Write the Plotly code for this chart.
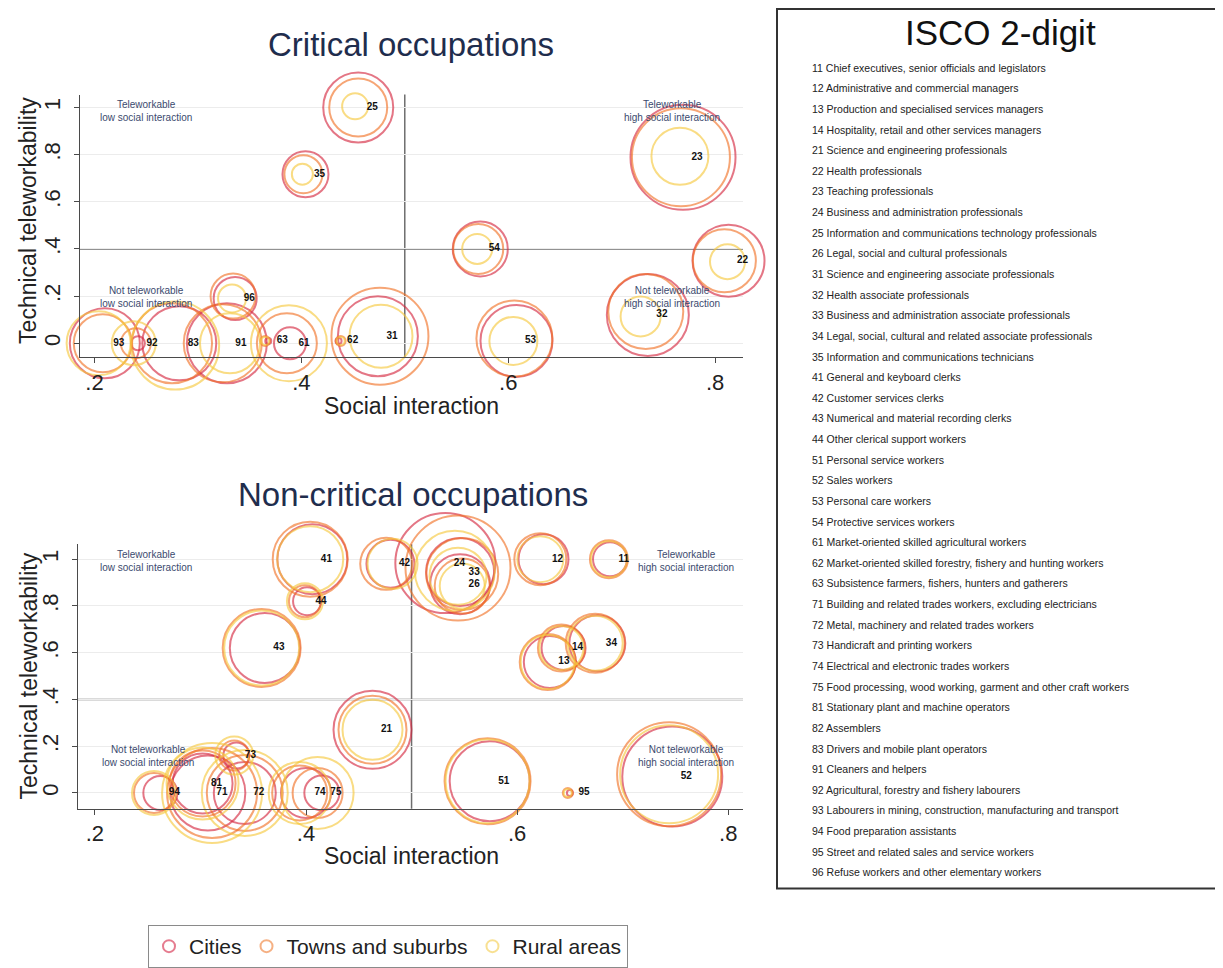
import plotly.graph_objects as go

# ---------------- DATA ----------------
# Critical occupations (top panel)
crit_isco = ["25", "35", "54", "23", "22", "32", "53", "93", "92", "83", "91", "96", "63", "61", "62", "31"]
crit_city_x = [0.455, 0.404, 0.573, 0.769, 0.813, 0.735, 0.608, 0.210, 0.242, 0.282, 0.328, 0.336, 0.368, 0.389, 0.436, 0.474]
crit_city_y = [1.000, 0.717, 0.400, 0.789, 0.350, 0.120, 0.010, 0.000, 0.000, 0.000, 0.000, 0.190, 0.010, 0.000, 0.010, 0.030]
crit_city_s = [70, 46, 55, 105, 72, 82, 72, 70, 14, 74, 80, 43, 6, 32, 6, 80]
crit_town_x = [0.455, 0.402, 0.571, 0.767, 0.809, 0.733, 0.606, 0.208, 0.240, 0.275, 0.324, 0.334, 0.365, 0.386, 0.438, 0.476]
crit_town_y = [1.000, 0.717, 0.400, 0.789, 0.350, 0.135, 0.020, 0.000, 0.000, 0.000, 0.000, 0.200, 0.010, 0.000, 0.010, 0.030]
crit_town_s = [58, 38, 50, 98, 63, 75, 76, 58, 30, 80, 78, 45, 10, 60, 10, 97]
crit_rural_x = [0.452, 0.401, 0.570, 0.766, 0.812, 0.728, 0.605, 0.204, 0.238, 0.278, 0.331, 0.333, 0.365, 0.388, 0.438, 0.477]
crit_rural_y = [1.005, 0.717, 0.400, 0.793, 0.346, 0.114, 0.010, 0.000, 0.000, -0.010, 0.000, 0.190, 0.010, 0.000, 0.010, 0.030]
crit_rural_s = [26, 21, 30, 57, 35, 40, 48, 64, 44, 88, 60, 28, 8, 76, 8, 63]

# Non-critical occupations (bottom panel)
nonc_isco = ["41", "44", "43", "42", "24", "33", "26", "12", "11", "14", "13", "34", "21", "51", "95", "52",
             "94", "73", "81", "71", "72", "74", "75"]
nonc_city_x = [0.406, 0.401, 0.361, 0.480, 0.532, 0.546, 0.546, 0.625, 0.688, 0.644, 0.631, 0.676, 0.463, 0.574, 0.650, 0.747,
               0.262, 0.334, 0.302, 0.307, 0.342, 0.400, 0.415]
nonc_city_y = [1.000, 0.820, 0.620, 0.980, 0.983, 0.945, 0.893, 1.000, 1.000, 0.620, 0.560, 0.640, 0.270, 0.050, 0.000, 0.070,
               0.000, 0.160, 0.040, 0.000, 0.000, 0.000, 0.000]
nonc_city_s = [70, 28, 70, 48, 100, 68, 60, 50, 34, 44, 52, 56, 78, 80, 6, 100,
               34, 26, 60, 75, 62, 50, 35]
nonc_town_x = [0.404, 0.399, 0.358, 0.476, 0.544, 0.548, 0.548, 0.622, 0.687, 0.642, 0.629, 0.674, 0.463, 0.572, 0.648, 0.744,
               0.256, 0.332, 0.302, 0.311, 0.342, 0.394, 0.411]
nonc_town_y = [1.000, 0.820, 0.620, 0.980, 0.962, 0.936, 0.885, 1.000, 1.000, 0.620, 0.560, 0.640, 0.270, 0.050, 0.000, 0.080,
               0.000, 0.160, 0.040, 0.000, 0.000, 0.000, 0.000]
nonc_town_s = [75, 32, 78, 52, 105, 72, 55, 52, 38, 47, 56, 59, 68, 86, 10, 104,
               40, 30, 66, 90, 76, 55, 50]
nonc_rural_x = [0.404, 0.399, 0.358, 0.482, 0.541, 0.544, 0.548, 0.622, 0.687, 0.642, 0.629, 0.674, 0.463, 0.572, 0.648, 0.744,
                0.256, 0.332, 0.302, 0.311, 0.342, 0.394, 0.411]
nonc_rural_y = [1.000, 0.820, 0.620, 0.980, 0.950, 0.927, 0.885, 1.000, 1.000, 0.620, 0.560, 0.640, 0.270, 0.050, 0.000, 0.080,
                0.000, 0.160, 0.040, 0.000, 0.000, 0.000, 0.000]
nonc_rural_s = [66, 36, 75, 50, 80, 57, 45, 46, 36, 44, 54, 55, 60, 84, 8, 98,
                44, 38, 72, 100, 86, 62, 72]

x_ticks = [0.2, 0.4, 0.6, 0.8]
x_ticktext = [".2", ".4", ".6", ".8"]
y_ticks = [0, 0.2, 0.4, 0.6, 0.8, 1]
y_ticktext = ["0", ".2", ".4", ".6", ".8", "1"]

area_names = ["Cities", "Towns and suburbs", "Rural areas"]

isco_list = [
    "11 Chief executives, senior officials and legislators",
    "12 Administrative and commercial managers",
    "13 Production and specialised services managers",
    "14 Hospitality, retail and other services managers",
    "21 Science and engineering professionals",
    "22 Health professionals",
    "23 Teaching professionals",
    "24 Business and administration professionals",
    "25 Information and communications technology professionals",
    "26 Legal, social and cultural professionals",
    "31 Science and engineering associate professionals",
    "32 Health associate professionals",
    "33 Business and administration associate professionals",
    "34 Legal, social, cultural and related associate professionals",
    "35 Information and communications technicians",
    "41 General and keyboard clerks",
    "42 Customer services clerks",
    "43 Numerical and material recording clerks",
    "44 Other clerical support workers",
    "51 Personal service workers",
    "52 Sales workers",
    "53 Personal care workers",
    "54 Protective services workers",
    "61 Market-oriented skilled agricultural workers",
    "62 Market-oriented skilled forestry, fishery and hunting workers",
    "63 Subsistence farmers, fishers, hunters and gatherers",
    "71 Building and related trades workers, excluding electricians",
    "72 Metal, machinery and related trades workers",
    "73 Handicraft and printing workers",
    "74 Electrical and electronic trades workers",
    "75 Food processing, wood working, garment and other craft workers",
    "81 Stationary plant and machine operators",
    "82 Assemblers",
    "83 Drivers and mobile plant operators",
    "91 Cleaners and helpers",
    "92 Agricultural, forestry and fishery labourers",
    "93 Labourers in mining, construction, manufacturing and transport",
    "94 Food preparation assistants",
    "95 Street and related sales and service workers",
    "96 Refuse workers and other elementary workers",
]

# ---------------- STYLE ----------------
OFF = 8  # default page margin of the html body
W, H = 1223 - OFF, 968 - OFF
FONT = "Liberation Sans, Arial, Helvetica, sans-serif"
COLORS = ["rgba(212,38,62,0.9)", "rgba(240,112,36,0.9)", "rgba(246,200,60,0.9)"]
LEGEND_COLORS = ["rgba(220,80,105,0.75)", "rgba(242,150,90,0.75)", "rgba(246,214,110,0.75)"]
NAVY = "#1f2d4d"
QUAD = "#3b4a6e"


def px_x(p):
    return (p - OFF) / W


def px_y(p):
    return 1 - (p - OFF) / H


fig = go.Figure()


def add_panel(xa, ya, isco, series):
    for (xs, ys, ss), col in zip(series, COLORS):
        fig.add_trace(go.Scatter(
            x=xs, y=ys, mode="markers", xaxis=xa, yaxis=ya,
            marker=dict(symbol="circle-open", size=ss, sizemode="diameter",
                        color=col, line=dict(width=2, color=col)),
            cliponaxis=False, showlegend=False, hoverinfo="skip"))
    cx, cy = series[0][0], series[0][1]
    fig.add_trace(go.Scatter(
        x=cx, y=cy, mode="markers+text", xaxis=xa, yaxis=ya, text=isco,
        textposition="middle right",
        textfont=dict(size=10, color="#111", family=FONT, weight="bold"),
        marker=dict(size=12, opacity=0), cliponaxis=False,
        showlegend=False, hoverinfo="skip"))


add_panel("x", "y", crit_isco, [
    (crit_city_x, crit_city_y, crit_city_s),
    (crit_town_x, crit_town_y, crit_town_s),
    (crit_rural_x, crit_rural_y, crit_rural_s)])
add_panel("x2", "y2", nonc_isco, [
    (nonc_city_x, nonc_city_y, nonc_city_s),
    (nonc_town_x, nonc_town_y, nonc_town_s),
    (nonc_rural_x, nonc_rural_y, nonc_rural_s)])

# legend entries
for name, col in zip(area_names, LEGEND_COLORS):
    fig.add_trace(go.Scatter(
        x=[None], y=[None], mode="markers", name=name, xaxis="x", yaxis="y",
        marker=dict(symbol="circle-open", size=9, color=col, line=dict(width=1.5, color=col))))

axis_common = dict(showline=True, linecolor="#4a4a4a", linewidth=1.4, ticks="outside",
                   ticklen=5, tickcolor="#4a4a4a", zeroline=False,
                   tickfont=dict(size=22, color="#222", family=FONT))

fig.update_layout(
    width=W, height=H, margin=dict(l=0, r=0, t=0, b=0),
    paper_bgcolor="white", plot_bgcolor="white",
    font=dict(family=FONT, color="#222"),
    xaxis=dict(domain=[px_x(80), px_x(743)], range=[0.186, 0.827], anchor="y",
               tickvals=x_ticks, ticktext=x_ticktext, showgrid=False, **axis_common),
    yaxis=dict(domain=[px_y(359), px_y(95)], range=[-0.059, 1.055], anchor="x",
               tickvals=y_ticks, ticktext=y_ticktext, tickangle=-90, ticklabelstandoff=5,
               showgrid=True, gridcolor="#ececec", gridwidth=1, **axis_common),
    xaxis2=dict(domain=[px_x(78), px_x(743)], range=[0.184, 0.814], anchor="y2",
                tickvals=x_ticks, ticktext=x_ticktext, showgrid=False, **axis_common),
    yaxis2=dict(domain=[px_y(813), px_y(547)], range=[-0.068, 1.064], anchor="x2",
                tickvals=y_ticks, ticktext=y_ticktext, tickangle=-90, ticklabelstandoff=5,
                showgrid=True, gridcolor="#ececec", gridwidth=1, **axis_common),
    showlegend=True,
    legend=dict(orientation="h", x=px_x(148), y=px_y(930), xanchor="left", yanchor="top",
                bordercolor="#8a8a8a", borderwidth=1, bgcolor="white",
                font=dict(size=21, color="#222", family=FONT),
                itemsizing="constant"),
)

shapes = []
for xa, ya in (("x", "y"), ("x2", "y2")):
    shapes.append(dict(type="line", xref=f"{xa} domain", yref=ya, x0=0, x1=1, y0=0.4, y1=0.4,
                       line=dict(color="#6e6e6e", width=1.5), layer="below"))
    shapes.append(dict(type="line", xref=xa, yref=f"{ya} domain", x0=0.5, x1=0.5, y0=0, y1=1,
                       line=dict(color="#6e6e6e", width=1.5), layer="below"))
# ISCO box
shapes.append(dict(type="rect", xref="paper", yref="paper",
                   x0=px_x(777), x1=px_x(1221), y0=px_y(893), y1=px_y(9),
                   line=dict(color="#333", width=2), fillcolor="rgba(0,0,0,0)"))
fig.update_layout(shapes=shapes)

ann = []


def paper_text(text, x, y, size, color, **kw):
    d = dict(text=text, x=px_x(x), y=px_y(y), xref="paper", yref="paper",
             xanchor="center", yanchor="middle", showarrow=False,
             font=dict(size=size, color=color, family=FONT))
    d.update(kw)
    ann.append(d)


# panel titles
paper_text("Critical occupations", 411, 45, 33, NAVY)
paper_text("Non-critical occupations", 413, 497, 33, NAVY)
# axis titles
for yy in (408, 860):
    paper_text("Social interaction", 411, yy, 23, "#222")
for yy in (222, 680):
    paper_text("Technical teleworkability", 28, yy, 23, "#222", textangle=-90)

# quadrant labels
quads = [("Teleworkable<br>low social interaction", 0.25, 0.985),
         ("Teleworkable<br>high social interaction", 0.758, 0.985),
         ("Not teleworkable<br>low social interaction", 0.25, 0.195),
         ("Not teleworkable<br>high social interaction", 0.758, 0.195)]
quads2 = [("Teleworkable<br>low social interaction", 0.248, 0.99),
          ("Teleworkable<br>high social interaction", 0.76, 0.99),
          ("Not teleworkable<br>low social interaction", 0.25, 0.16),
          ("Not teleworkable<br>high social interaction", 0.76, 0.16)]
for (t, qx, qy) in quads:
    ann.append(dict(text=t, x=qx, y=qy, xref="x", yref="y", showarrow=False,
                    xanchor="center", yanchor="middle",
                    font=dict(size=10, color=QUAD, family=FONT)))
for (t, qx, qy) in quads2:
    ann.append(dict(text=t, x=qx, y=qy, xref="x2", yref="y2", showarrow=False,
                    xanchor="center", yanchor="middle",
                    font=dict(size=10, color=QUAD, family=FONT)))

# ISCO list
paper_text("ISCO 2-digit", 1000, 33, 35, "#111")
for i, item in enumerate(isco_list):
    paper_text(item, 810, 68 + i * 20.74, 10.5, "#222", xanchor="left")
fig.update_layout(annotations=ann)

fig.write_html("out.html")
